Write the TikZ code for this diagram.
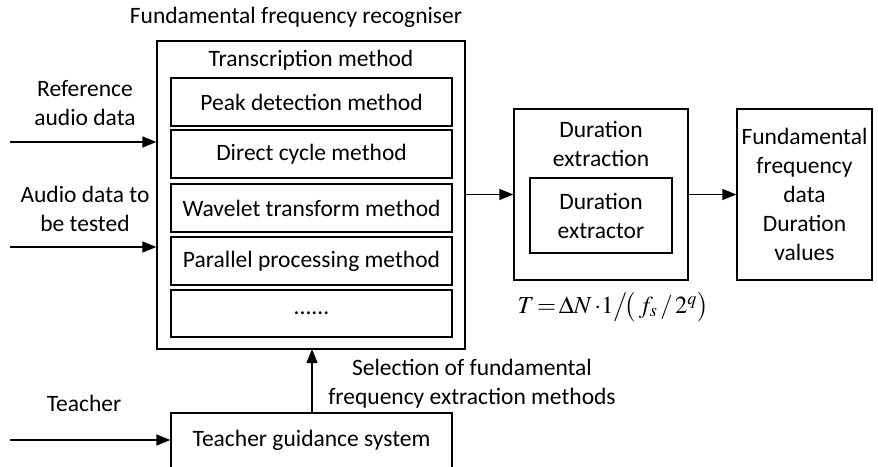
\documentclass[tikz,border=0pt]{standalone}
\usepackage{mathptmx}
\usepackage{fontspec}
\setmainfont{Carlito}
\usetikzlibrary{arrows.meta}
\begin{document}
\begin{tikzpicture}[x=1pt,y=-1pt,
  lbl/.style={font=\fontsize{23.5}{29}\selectfont, align=center, inner sep=0pt},
  box/.style={draw, line width=1.3pt, inner sep=0pt},
  arr/.style={line width=1.3pt, -{Triangle[length=14pt,width=11pt]}}]
\useasboundingbox (0,0) rectangle (878,466);
\clip (0,0) rectangle (878,466);
% outer recogniser
\node[box, minimum width=308pt, minimum height=308pt] (outer) at (311,195) {};
\node[lbl] (title) at (296,17) {Fundamental frequency recogniser};
\node[lbl] (trans) at (311,60) {Transcription method};
\node[box, lbl, minimum width=281pt, minimum height=48pt] (peak) at (311.5,102) {Peak detection method};
\node[box, lbl, minimum width=281pt, minimum height=48pt] (direct) at (311.5,154) {Direct cycle method};
\node[box, lbl, minimum width=281pt, minimum height=48pt] (wave) at (311.5,208) {Wavelet transform method};
\node[box, lbl, minimum width=281pt, minimum height=48pt] (para) at (311.5,261) {Parallel processing method};
\node[box, lbl, minimum width=281pt, minimum height=47pt] (dots) at (311.5,313.5) {......};
% inputs
\node[lbl] (reftxt) at (85,103.5) {Reference\\audio data};
\node[lbl] (testtxt) at (85,208.5) {Audio data to\\be tested};
\coordinate (in1) at (10,142);
\coordinate (in2) at (10,247);
\draw[arr] (in1) -- (in1 -| outer.west);
\draw[arr] (in2) -- (in2 -| outer.west);
% duration
\node[box, minimum width=174pt, minimum height=171pt] (dur) at (601,194.5) {};
\node[lbl] (durtxt) at (601,143.5) {Duration\\extraction};
\node[box, lbl, minimum width=142pt, minimum height=75pt] (extr) at (601,215.5) {Duration\\extractor};
\node[box, lbl, minimum width=135pt, minimum height=171pt] (outbox) at (804.5,194.5) {Fundamental\\frequency\\data\\Duration\\values};
\draw[arr] (outer.east |- dur.west) -- (dur.west);
\draw[arr] (dur.east) -- (outbox.west);
\node[inner sep=0pt, anchor=base, font=\fontsize{24.5}{29}\selectfont] (formula) at (613,313) {$T\,{=}\,\Delta N\,{\cdot}1\big/\!\big(\,f_s\,/\,2^q\big)$};
% teacher
\node[box, minimum width=281pt, minimum height=70pt] (tg) at (311.5,448) {};
\node[lbl] (tgtxt) at (311.5,440) {Teacher guidance system};
\node[lbl] (teacher) at (84,403) {Teacher};
\coordinate (tin) at (10,440);
\draw[arr] (tin) -- (tin -| tg.west);
\draw[arr] (312,413) -- (312,349);
\node[lbl, fill=white, inner sep=1pt] (sel) at (472,383.5) {Selection of fundamental\\frequency extraction methods};
\end{tikzpicture}
\end{document}
